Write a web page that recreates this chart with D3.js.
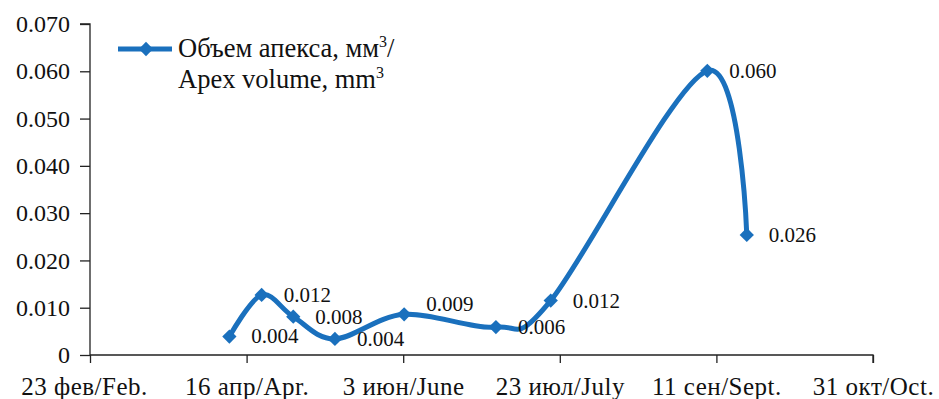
<!DOCTYPE html>
<html><head><meta charset="utf-8">
<script src="https://cdn.jsdelivr.net/npm/d3@7"></script>
<style>
html,body{margin:0;padding:0;background:#fff;}
svg{display:block;}
svg text{font-family:"Liberation Serif","Times New Roman",serif !important;}
</style></head>
<body>
<svg id="chart" width="939" height="399"></svg>
<script>
// Days since 23 Feb (x), apex volume mm^3 (y)
const dayOffsets = [44.5, 54.8, 64.9, 78.2, 100.3, 129.6, 147.1, 197.1, 209.7];
const apexVolume = [0.0039, 0.0127, 0.0081, 0.0034, 0.0086, 0.0059, 0.0115, 0.0601, 0.0254];
const pointLabels = ["0.004","0.012","0.008","0.004","0.009","0.006","0.012","0.060","0.026"];
const xTickDays = [0, 50, 100, 150, 200, 250];
const xTickLabels = ["23 фев/Feb.","16 апр/Apr.","3 июн/June","23 июл/July","11 сен/Sept.","31 окт/Oct."];
const yTicks = [0, 0.01, 0.02, 0.03, 0.04, 0.05, 0.06, 0.07];
const seriesName = ["Объем апекса, мм", "Apex volume, mm"];

const color = "#1a70bd";
const svg = d3.select("#chart");
const x = d3.scaleLinear().domain([0, 250]).range([90, 873]);
const y = d3.scaleLinear().domain([0, 0.07]).range([355, 24]);

// Y axis
const yAxis = svg.append("g").attr("transform", "translate(90,0)")
  .call(d3.axisLeft(y).tickValues(yTicks).tickSize(10).tickPadding(10)
    .tickFormat(d => d === 0 ? "0" : d3.format(".3f")(d)));
yAxis.selectAll("path,line").attr("stroke", "#222").attr("stroke-width", 1.3);
yAxis.select(".domain").attr("d", `M-10,${y(0.07)}H0V${y(0)}`);
yAxis.selectAll("text").attr("font-size", 24).attr("fill", "#111");

// X axis
const xAxis = svg.append("g").attr("transform", "translate(0,355)")
  .call(d3.axisBottom(x).tickValues(xTickDays).tickSize(8).tickPadding(14)
    .tickFormat((d, i) => xTickLabels[i]));
xAxis.selectAll("path,line").attr("stroke", "#222").attr("stroke-width", 1.3);
xAxis.select(".domain").attr("d", `M${x(0)},0H${x(250)}V8`);
xAxis.selectAll("text").attr("font-size", 25).attr("fill", "#111")
  .attr("dy", null).attr("y", 40).attr("letter-spacing", 0.5);
xAxis.selectAll(".tick").filter((d, i) => i === 0).select("text").attr("x", -6);

const data = dayOffsets.map((d, i) => ({x: d, y: apexVolume[i], label: pointLabels[i]}));

// Line
const line = d3.line().x(d => x(d.x)).y(d => y(d.y)).curve(d3.curveCatmullRom.alpha(0));
svg.append("path").datum(data).attr("d", line)
  .attr("fill", "none").attr("stroke", color).attr("stroke-width", 5)
  .attr("stroke-linejoin", "round");

// Markers
const diamond = d3.symbol().type(d3.symbolDiamond2).size(130);
svg.selectAll(".pt").data(data).join("path").attr("class", "pt")
  .attr("transform", d => `translate(${x(d.x)},${y(d.y)})`)
  .attr("d", diamond).attr("fill", color);

// Labels (the 5th label sits slightly above its point)
svg.selectAll(".lbl").data(data).join("text").attr("class", "lbl")
  .attr("x", d => x(d.x) + 22).attr("y", (d, i) => y(d.y) - (i === 4 ? 10 : 0))
  .attr("dy", "0.33em").attr("font-size", 21).attr("fill", "#111")
  .text(d => d.label);

// Legend
const lg = svg.append("g");
lg.append("line").attr("x1", 118).attr("x2", 172).attr("y1", 49).attr("y2", 49)
  .attr("stroke", color).attr("stroke-width", 5);
lg.append("path").attr("transform", "translate(146,49)").attr("d", diamond).attr("fill", color);
const t1 = lg.append("text").attr("x", 178).attr("y", 57).attr("font-size", 26.5).attr("fill", "#111");
t1.append("tspan").text(seriesName[0]);
t1.append("tspan").attr("dy", -10).attr("font-size", 16).text("3");
t1.append("tspan").attr("dy", 10).text("/");
const t2 = lg.append("text").attr("x", 178).attr("y", 88).attr("font-size", 26.5).attr("fill", "#111");
t2.append("tspan").text(seriesName[1]);
t2.append("tspan").attr("dy", -10).attr("font-size", 16).text("3");
</script>
</body></html>
